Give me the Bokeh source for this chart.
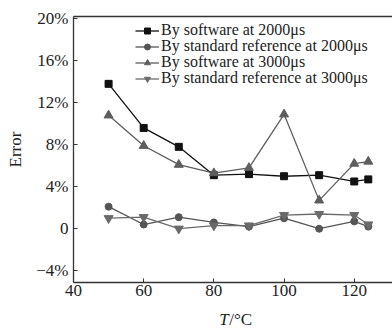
from bokeh.plotting import figure
from bokeh.models import (Range1d, FixedTicker, Legend, LegendItem, Label, LinearAxis)
from bokeh.embed import file_html
from bokeh.resources import INLINE

temps = [50, 60, 70, 80, 90, 100, 110, 120, 124]
sw_2000 = [13.8, 9.6, 7.8, 5.1, 5.2, 5.0, 5.1, 4.5, 4.7]
std_2000 = [2.1, 0.4, 1.1, 0.6, 0.2, 1.0, 0.0, 0.7, 0.2]
sw_3000 = [10.8, 7.9, 6.1, 5.3, 5.8, 10.9, 2.7, 6.2, 6.4]
std_3000 = [1.0, 1.1, 0.0, 0.3, 0.3, 1.3, 1.4, 1.3, 0.4]
y_ticks = [-4, 0, 4, 8, 12, 16, 20]
y_tick_labels = ["\u22124%", "0", "4%", "8%", "12%", "16%", "20%"]
x_ticks = [40, 60, 80, 100, 120]
series_names = ["By software at 2000\u03bcs", "By standard reference at 2000\u03bcs",
                "By software at 3000\u03bcs", "By standard reference at 3000\u03bcs"]
x_axis_min, x_axis_max = 40, 130.9
y_axis_min, y_axis_max = -5.1, 20.2

FONT = "Liberation Serif"
TXT = "#222222"
AX = "#333333"

p = figure(width=392, height=329, output_backend="svg", toolbar_location=None,
           x_range=Range1d(19.2, x_axis_max), y_range=Range1d(-9.6, 21.74),
           min_border_left=0, min_border_top=0, min_border_right=0, min_border_bottom=0)
p.outline_line_color = None
p.grid.visible = False
p.background_fill_color = "white"

for ax in (p.xaxis[0], p.yaxis[0]):
    ax.major_tick_in = 4
    ax.major_tick_out = 0
    ax.minor_tick_line_color = None
    ax.axis_line_color = AX
    ax.axis_line_width = 1.3
    ax.major_tick_line_color = AX
    ax.major_label_text_font = FONT
    ax.major_label_text_font_size = "17px"
    ax.major_label_text_color = TXT

p.xaxis.ticker = FixedTicker(ticks=x_ticks)
p.xaxis.fixed_location = y_axis_min
p.xaxis.bounds = (x_axis_min, x_axis_max)
p.xaxis.major_label_standoff = 3

p.yaxis.ticker = FixedTicker(ticks=y_ticks)
p.yaxis.fixed_location = x_axis_min
p.yaxis.bounds = (y_axis_min, y_axis_max)
p.yaxis.major_label_overrides = {t: l for t, l in zip(y_ticks, y_tick_labels)}
p.yaxis.major_label_standoff = 5
p.yaxis.axis_label = "Error"
p.yaxis.axis_label_text_font = FONT
p.yaxis.axis_label_text_font_style = "normal"
p.yaxis.axis_label_text_font_size = "17px"
p.yaxis.axis_label_text_color = TXT
p.yaxis.axis_label_standoff = 8

top_axis = LinearAxis(fixed_location=y_axis_max, bounds=(x_axis_min, x_axis_max),
                      ticker=FixedTicker(ticks=[]), axis_line_color=AX, axis_line_width=1.5,
                      major_tick_line_color=None, minor_tick_line_color=None,
                      major_label_text_font_size="0px")
p.add_layout(top_axis, "above")

colors = ["#111111", "#555555", "#5e5e5e", "#6a6a6a"]
markers = ["square", "circle", "triangle", "inverted_triangle"]
sizes = [7, 7, 9, 9]
legend_sizes = [5, 5, 6, 6]
data = [sw_2000, std_2000, sw_3000, std_3000]

legend_rows_y = [290, 274, 258, 242]
for name, ys, c, m, s, ls, ly in zip(series_names, data, colors, markers, sizes,
                                     legend_sizes, legend_rows_y):
    l = p.line(temps, ys, line_color=c, line_width=1.3)
    small = p.scatter(temps, ys, marker=m, size=ls, fill_color=c, line_color=c)
    p.scatter(temps, ys, marker=m, size=s, fill_color=c, line_color=c)
    leg = Legend(items=[LegendItem(label=name, renderers=[l, small])], location=(135, ly),
                 padding=0, margin=0, spacing=0,
                 border_line_color=None, background_fill_alpha=0,
                 label_text_font=FONT, label_text_font_size="16px",
                 label_text_color=TXT, label_height=15, glyph_height=15,
                 glyph_width=24, label_standoff=2)
    p.add_layout(leg, "center")

p.add_layout(Label(x=84.2, y=-8.6, text="T", text_font=FONT, text_font_style="italic",
                   text_font_size="17px", text_align="right", text_baseline="middle",
                   text_color=TXT))
p.add_layout(Label(x=84.4, y=-8.6, text="/\u00b0C", text_font=FONT,
                   text_font_size="17px", text_align="left", text_baseline="middle",
                   text_color=TXT))

open("out.html", "w").write(file_html(p, INLINE))
